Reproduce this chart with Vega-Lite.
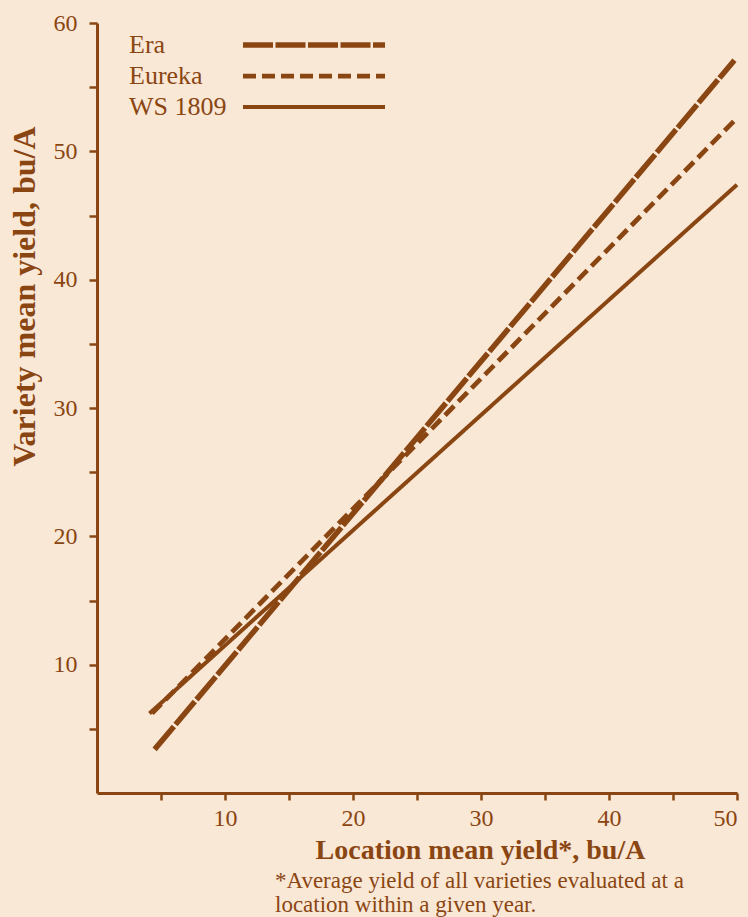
{
  "$schema": "https://vega.github.io/schema/vega-lite/v6.json",
  "width": 640,
  "height": 770,
  "autosize": {"type": "none"},
  "padding": {"left": 97, "top": 23, "right": 11, "bottom": 124},
  "background": "#fae8d6",
  "config": {"view": {"stroke": null}, "font": "Liberation Serif"},
  "title": {
    "text": ["*Average yield of all varieties evaluated at a", "location within a given year."],
    "orient": "bottom",
    "anchor": "start",
    "frame": "group",
    "dx": 178,
    "offset": 6,
    "fontSize": 23,
    "fontWeight": "normal",
    "font": "Liberation Serif",
    "color": "#8a4612",
    "lineHeight": 24
  },
  "data": {
    "values": [
      {"variety": "Era", "location_mean": 4.5, "variety_mean": 3.4},
      {"variety": "Era", "location_mean": 49.8, "variety_mean": 57.1},
      {"variety": "Eureka", "location_mean": 4.3, "variety_mean": 6.2},
      {"variety": "Eureka", "location_mean": 50, "variety_mean": 52.6},
      {"variety": "WS 1809", "location_mean": 4.1, "variety_mean": 6.2},
      {"variety": "WS 1809", "location_mean": 50, "variety_mean": 47.4}
    ]
  },
  "mark": {"type": "line", "color": "#8a4612", "strokeCap": "butt"},
  "encoding": {
    "x": {
      "field": "location_mean",
      "type": "quantitative",
      "scale": {"domain": [0, 50], "nice": false, "zero": false},
      "axis": {
        "values": [5, 10, 15, 20, 25, 30, 35, 40, 45, 50],
        "labelExpr": "datum.value % 10 === 0 ? datum.label : ''",
        "grid": false,
        "domainColor": "#8a4612",
        "domainWidth": 3,
        "tickColor": "#8a4612",
        "tickWidth": 2.5,
        "tickSize": 7,
        "labelColor": "#8a4612",
        "labelFont": "Liberation Serif",
        "labelFontSize": 24,
        "labelPadding": 6,
        "title": "Location mean yield*, bu/A",
        "titleFont": "Liberation Serif",
        "titleFontSize": 28,
        "titleFontWeight": "bold",
        "titleColor": "#8a4612",
        "titleX": 383,
        "titleY": 65,
        "titleBaseline": "alphabetic",
        "titleAlign": "center"
      }
    },
    "y": {
      "field": "variety_mean",
      "type": "quantitative",
      "scale": {"domain": [0, 60], "nice": false, "zero": false},
      "axis": {
        "values": [5, 10, 15, 20, 25, 30, 35, 40, 45, 50, 55, 60],
        "labelExpr": "datum.value % 10 === 0 ? datum.label : ''",
        "grid": false,
        "domainColor": "#8a4612",
        "domainWidth": 3,
        "tickColor": "#8a4612",
        "tickWidth": 2.5,
        "tickSize": 8,
        "labelColor": "#8a4612",
        "labelFont": "Liberation Serif",
        "labelFontSize": 24,
        "labelPadding": 12,
        "title": "Variety mean yield, bu/A",
        "titleFont": "Liberation Serif",
        "titleFontSize": 32,
        "titleFontWeight": "bold",
        "titleColor": "#8a4612",
        "titleAngle": -90,
        "titleX": -63,
        "titleY": 273,
        "titleAlign": "center",
        "titleBaseline": "alphabetic"
      }
    },
    "strokeDash": {
      "field": "variety",
      "type": "nominal",
      "scale": {"domain": ["Era", "Eureka", "WS 1809"], "range": [[30, 2.5], [13, 6], [1, 0]]},
      "legend": {
        "orient": "none",
        "legendX": 30,
        "legendY": 9,
        "title": null,
        "labelFont": "Liberation Serif",
        "labelFontSize": 26,
        "labelColor": "#8a4612",
        "symbolType": "M-7.1,0H7.1",
        "symbolSize": 400,
        "symbolStrokeColor": "#8a4612",
        "symbolStrokeWidth": 5,
        "labelOffset": -198,
        "symbolOffset": 174,
        "rowPadding": 5
      }
    },
    "strokeWidth": {
      "field": "variety",
      "type": "nominal",
      "scale": {"domain": ["Era", "Eureka", "WS 1809"], "range": [5.5, 4, 4.5]},
      "legend": null
    }
  }
}
